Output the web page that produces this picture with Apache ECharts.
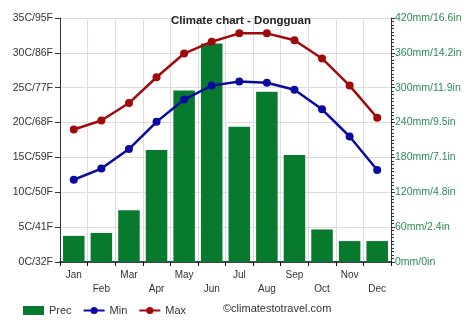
<!DOCTYPE html>
<html><head><meta charset="utf-8">
<script src="https://cdn.jsdelivr.net/npm/echarts@6/dist/echarts.min.js"></script>
<style>html,body{margin:0;padding:0;background:#fff}#c{width:474px;height:331px}</style>
</head><body><div id="c"></div>
<script>
const months = ['Jan','Feb','Mar','Apr','May','Jun','Jul','Aug','Sep','Oct','Nov','Dec'];
const prec = [45, 50, 89, 193, 295, 376, 233, 293, 184, 56, 36, 36];
const tMin = [11.8, 13.4, 16.2, 20.1, 23.3, 25.3, 25.9, 25.7, 24.7, 21.9, 18.0, 13.2];
const tMax = [19.0, 20.3, 22.8, 26.5, 29.9, 31.6, 32.8, 32.8, 31.8, 29.2, 25.3, 20.7];
const leftLabels = {0:'0C/32F',5:'5C/41F',10:'10C/50F',15:'15C/59F',20:'20C/68F',25:'25C/77F',30:'30C/86F',35:'35C/95F'};
const rightLabels = {0:'0mm/0in',60:'60mm/2.4in',120:'120mm/4.8in',180:'180mm/7.1in',240:'240mm/9.5in',300:'300mm/11.9in',360:'360mm/14.2in',420:'420mm/16.6in'};

const font = 'Liberation Sans, Arial, sans-serif';
const chart = echarts.init(document.getElementById('c'), null, {renderer:'canvas'});
chart.setOption({
  animation: false,
  textStyle: {fontFamily: font},
  title: {text: 'Climate chart - Dongguan', left: 236, textAlign: 'center', top: 10,
    textStyle: {fontSize: 11.5, fontWeight: 'bold', color: '#222', fontFamily: font}},
  grid: {left: 60, right: 83, top: 18, bottom: 69},
  legend: {
    left: 18, top: 300, itemGap: 11, itemWidth: 21, itemHeight: 9,
    textStyle: {fontSize: 11, color: '#333', fontFamily: font},
    data: [
      {name: 'Prec', icon: 'rect'},
      {name: 'Min'},
      {name: 'Max'}
    ]
  },
  graphic: [{type: 'text', left: 223, top: 303,
    style: {text: '©climatestotravel.com', fontSize: 11, fill: '#333', fontFamily: font}}],
  xAxis: {
    type: 'category', data: months, boundaryGap: true,
    axisLine: {lineStyle: {color: '#111', width: 1.5}},
    axisTick: {show: true, length: 4, lineStyle: {color: '#111'}},
    splitLine: {show: true, interval: 0, lineStyle: {color: '#dcdce6'}},
    axisLabel: {interval: 0, fontSize: 10, color: '#333', margin: 6, lineHeight: 14,
      formatter: (v, i) => i % 2 === 0 ? v : '\n' + v}
  },
  yAxis: [{
    type: 'value', min: 0, max: 35, interval: 5,
    axisLine: {show: true, lineStyle: {color: '#333'}},
    axisTick: {show: true, length: 5, lineStyle: {color: '#333'}},
    splitLine: {lineStyle: {color: '#dcdce6'}},
    axisLabel: {fontSize: 10.5, color: '#333', margin: 7, formatter: v => leftLabels[v]}
  }, {
    type: 'value', min: 0, max: 420, interval: 60, position: 'right',
    axisLine: {show: true, lineStyle: {color: '#333'}},
    axisTick: {show: true, length: 4, lineStyle: {color: '#333'}},
    minorTick: {show: true, splitNumber: 10, length: 3, lineStyle: {color: '#333'}},
    splitLine: {show: false},
    axisLabel: {fontSize: 10.5, color: '#2e8b57', margin: 4, formatter: v => rightLabels[v]}
  }],
  series: [{
    name: 'Prec', type: 'bar', yAxisIndex: 1, data: prec, barCategoryGap: '22%',
    itemStyle: {color: '#087a2e'}
  }, {
    name: 'Min', type: 'line', yAxisIndex: 0, data: tMin, symbol: 'circle', symbolSize: 8,
    lineStyle: {color: '#0a0aa0', width: 2.5}, itemStyle: {color: '#0a0aa0'}
  }, {
    name: 'Max', type: 'line', yAxisIndex: 0, data: tMax, symbol: 'circle', symbolSize: 8,
    lineStyle: {color: '#a00a0a', width: 2.5}, itemStyle: {color: '#a00a0a'}
  }]
});
</script></body></html>
